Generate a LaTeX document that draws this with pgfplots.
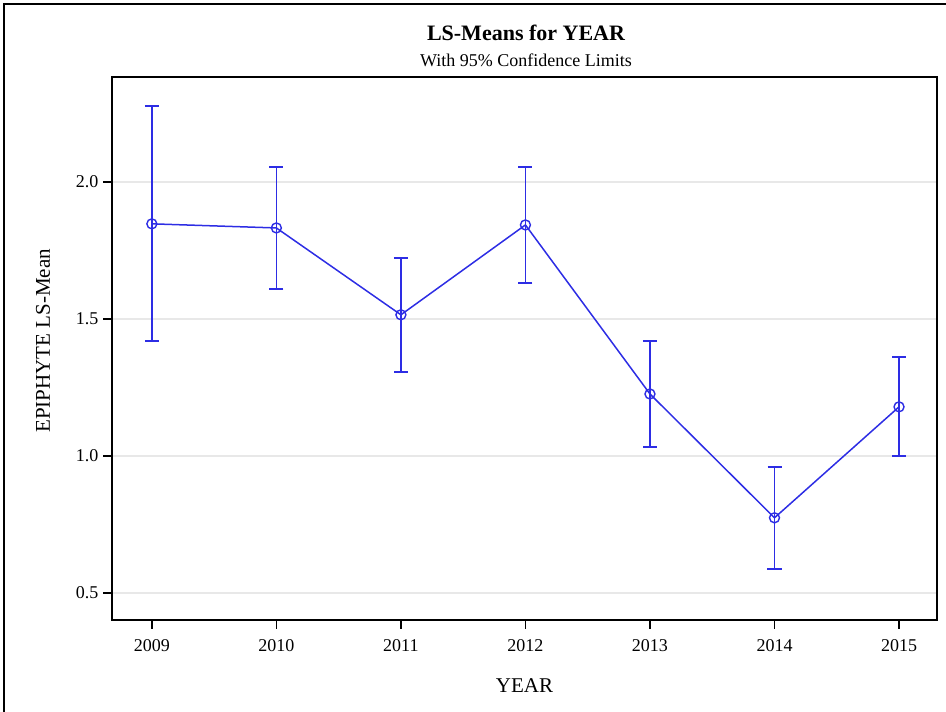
\documentclass[border=0pt]{standalone}
\usepackage{pgfplots}
\pgfplotsset{compat=1.18}
\usepackage{fontspec}
\setmainfont{Liberation Serif}
\definecolor{sasblue}{RGB}{45,45,228}
\definecolor{gridgray}{RGB}{232,232,232}
\pgfplotstableread{
x y ep em
2009 1.847 0.430 0.427
2010 1.832 0.223 0.223
2011 1.515 0.208 0.208
2012 1.843 0.212 0.212
2013 1.226 0.194 0.193
2014 0.774 0.186 0.186
2015 1.179 0.182 0.179
}\lsmeans
\begin{document}
\begin{tikzpicture}[x=1pt,y=1pt]
\path[use as bounding box] (0,0) rectangle (946,712);
\draw[line width=1.3pt] (4,0) -- (4,708) -- (946,708);
\node[font=\fontsize{22}{26}\selectfont\bfseries] at (526,679) {LS-Means for YEAR};
\node[font=\fontsize{18}{21}\selectfont] at (526,652) {With 95\% Confidence Limits};
\begin{axis}[at={(112pt,92pt)}, anchor=south west, scale only axis,
  width=825pt, height=543pt,
  xmin=2008.68, xmax=2015.305, ymin=0.401, ymax=2.383,
  xtick={2009,2010,2011,2012,2013,2014,2015},
  ytick={0.5,1.0,1.5,2.0},
  xticklabels={2009,2010,2011,2012,2013,2014,2015},
  yticklabels={0.5,1.0,1.5,2.0},
  tick align=outside, tick pos=left, major tick length=9pt,
  tick style={black, line width=1.3pt},
  axis line style={line width=1.6pt},
  ymajorgrids, grid style={gridgray, line width=1.4pt},
  ticklabel style={font=\fontsize{18}{21}\selectfont},
  xticklabel style={yshift=-7pt},
  yticklabel style={xshift=-1pt},
  xlabel=YEAR, ylabel=EPIPHYTE LS-Mean,
  label style={font=\fontsize{21}{24}\selectfont},
  xlabel style={at={(axis description cs:0.5,-0.1215)}, anchor=center},
  ylabel style={at={(axis description cs:-0.0836,0.514)}, anchor=center, rotate=0},
]
\addplot[sasblue, line width=1.5pt, mark=o, mark size=5pt,
  mark options={line width=1.4pt},
  error bars/.cd, y dir=both, y explicit,
  error bar style={line width=1.5pt},
  error mark options={rotate=90, mark size=7pt, line width=1.5pt}]
  table[x=x, y=y, y error plus=ep, y error minus=em] {\lsmeans};
\end{axis}
\end{tikzpicture}
\end{document}
